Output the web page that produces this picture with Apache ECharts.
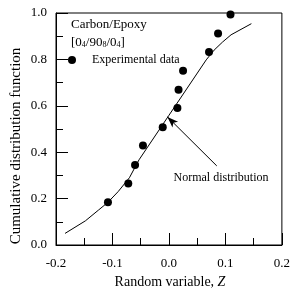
<!DOCTYPE html>
<html><head><meta charset="utf-8">
<script src="https://cdn.jsdelivr.net/npm/echarts@6/dist/echarts.min.js"></script>
<style>html,body{margin:0;padding:0;background:#fff}#c{width:293px;height:288px}</style>
</head><body><div id="c"></div>
<script>
// Experimental data points (Z, F)
const expZ = [-0.108, -0.072, -0.060, -0.046, -0.011, 0.015, 0.017, 0.025, 0.071, 0.087, 0.109];
const expF = [0.184, 0.265, 0.345, 0.429, 0.508, 0.590, 0.669, 0.751, 0.832, 0.912, 0.993];
// Normal distribution curve
const normZ = [-0.184, -0.148, -0.125, -0.108, -0.090, -0.070, -0.053, 0.000, 0.066, 0.080, 0.095, 0.110, 0.146];
const normF = [0.050, 0.104, 0.150, 0.184, 0.230, 0.290, 0.367, 0.559, 0.798, 0.840, 0.875, 0.906, 0.954];
// Annotation arrow (tail -> tip) in data coordinates
const arrowTail = [0.0847, 0.341];
const arrowTip = [-0.0026, 0.552];
const xTicks = ['-0.2', '-0.1', '0.0', '0.1', '0.2'];
const yTicks = ['0.0', '0.2', '0.4', '0.6', '0.8', '1.0'];

const FF = 'Liberation Serif';
const chart = echarts.init(document.getElementById('c'), null, {renderer: 'canvas'});
function axisCommon() {
  return {
    axisLine: {show: true, onZero: false, lineStyle: {color: '#000', width: 1}},
    axisTick: {show: true, inside: true, length: 12, lineStyle: {color: '#000', width: 1}},
    minorTick: {show: true, splitNumber: 2, length: 7, lineStyle: {color: '#000', width: 1}},
    splitLine: {show: false},
    minorSplitLine: {show: false}
  };
}
chart.setOption({
  animation: false,
  backgroundColor: '#fff',
  grid: {left: 56, right: 8, top: 13, bottom: 43, show: true, borderColor: '#000', borderWidth: 1, backgroundColor: 'transparent'},
  xAxis: Object.assign({
    type: 'value', min: Number(xTicks[0]), max: Number(xTicks[xTicks.length - 1]), interval: 0.1,
    axisLabel: {fontFamily: FF, fontSize: 13, color: '#000', margin: 12,
      formatter: v => xTicks.find(t => Math.abs(Number(t) - v) < 1e-6) || ''}
  }, axisCommon()),
  yAxis: Object.assign({
    type: 'value', min: Number(yTicks[0]), max: Number(yTicks[yTicks.length - 1]), interval: 0.2,
    axisLabel: {fontFamily: FF, fontSize: 13, color: '#000', margin: 9,
      formatter: v => yTicks.find(t => Math.abs(Number(t) - v) < 1e-6) || ''}
  }, axisCommon()),
  legend: {
    show: true, data: ['Experimental data'], left: 68, top: 54, padding: 0,
    icon: 'circle', itemWidth: 8, itemHeight: 8,
    textStyle: {fontFamily: FF, fontSize: 12, color: '#000', padding: [0, 0, 0, 11]}
  },
  series: [
    {
      name: 'Normal distribution', type: 'line', showSymbol: false, silent: true,
      data: normZ.map((z, i) => [z, normF[i]]),
      lineStyle: {color: '#000', width: 1},
      markLine: {
        silent: true, symbol: ['none', 'arrow'], symbolSize: [6, 11],
        label: {show: false},
        lineStyle: {color: '#000', width: 1, type: 'solid'},
        data: [[{coord: arrowTail}, {coord: arrowTip}]]
      }
    },
    {
      name: 'Experimental data', type: 'scatter', symbol: 'circle', symbolSize: 8,
      itemStyle: {color: '#000', opacity: 1},
      data: expZ.map((z, i) => [z, expF[i]])
    }
  ],
  graphic: [
    {type: 'text', left: 71, top: 18, style: {text: 'Carbon/Epoxy', fontFamily: FF, fontSize: 13, fill: '#000'}},
    {type: 'text', left: 71, top: 36, style: {
      text: '[0{s|4}/90{s|8}/0{s|4}]', fontFamily: FF, fontSize: 13, fill: '#000',
      rich: {s: {fontFamily: FF, fontSize: 8, verticalAlign: 'bottom', lineHeight: 8, fill: '#000'}}
    }},
    {type: 'text', x: 221, y: 178, style: {text: 'Normal distribution', fontFamily: FF, fontSize: 12, fill: '#000', textAlign: 'center', textVerticalAlign: 'middle'}},
    {type: 'text', x: 16, y: 146, rotation: Math.PI / 2, style: {text: 'Cumulative distribution function', fontFamily: FF, fontSize: 15, fill: '#000', textAlign: 'center', textVerticalAlign: 'middle'}},
    {type: 'text', x: 170, y: 282, style: {
      text: 'Random variable, {i|Z}', fontFamily: FF, fontSize: 14, fill: '#000', textAlign: 'center', textVerticalAlign: 'middle',
      rich: {i: {fontFamily: FF, fontSize: 14, fontStyle: 'italic', fill: '#000'}}
    }}
  ]
});
</script>
</body></html>
